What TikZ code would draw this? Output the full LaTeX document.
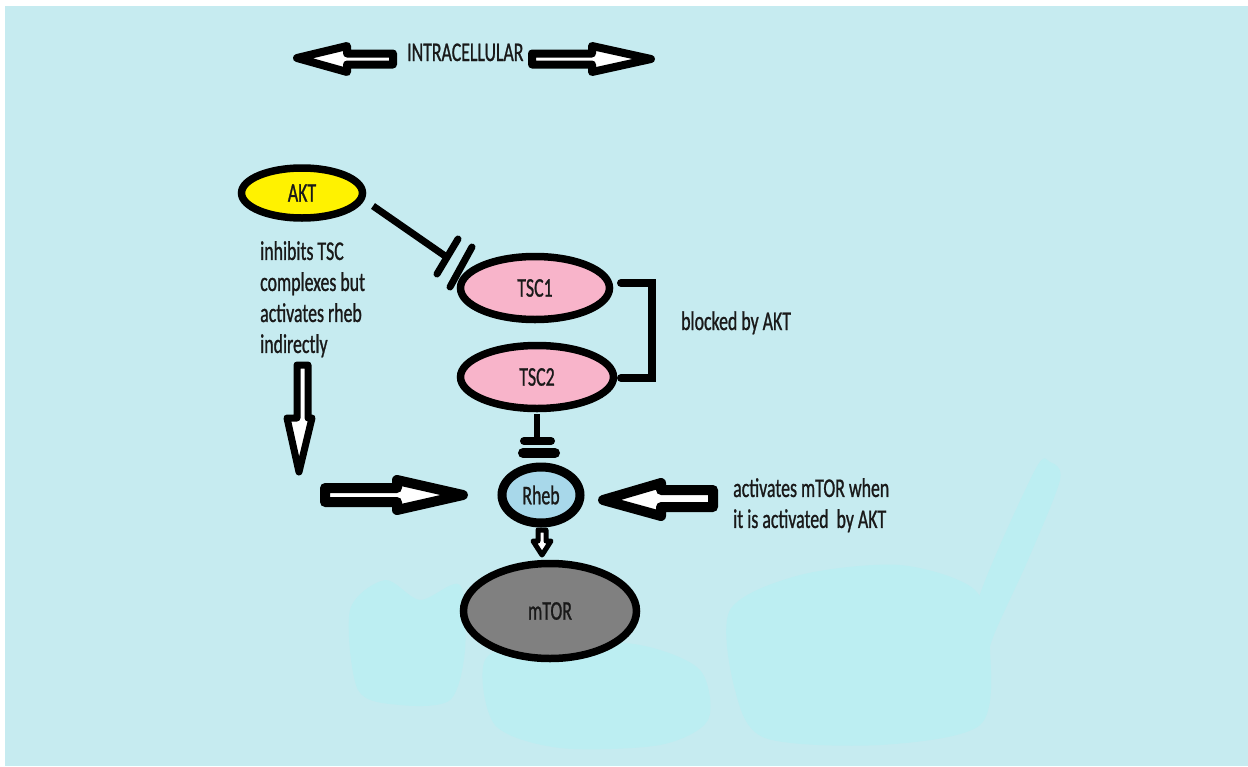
\documentclass[tikz,border=0pt]{standalone}
\usepackage{fontspec}
\newfontfamily\cf[FakeStretch=0.66,FakeBold=0.9]{Carlito}
\usetikzlibrary{shapes.geometric}
\definecolor{bgc}{RGB}{198,235,240}
\definecolor{wmc}{RGB}{188,238,242}
\definecolor{aktc}{RGB}{255,242,0}
\definecolor{tscc}{RGB}{248,180,202}
\definecolor{rhebc}{RGB}{168,216,234}
\definecolor{mtorc}{RGB}{128,128,128}
\definecolor{txc}{RGB}{25,25,25}
\tikzset{
  prot/.style={ellipse, draw=black, line width=7.5pt, inner sep=0pt, text=txc,
    font=\cf\fontsize{27}{31}\selectfont},
  lbl/.style={inner sep=0pt, text=txc, align=left, font=\cf\fontsize{27}{31}\selectfont},
  blockarrow/.style={draw=black, fill=white, line width=8pt, line join=round},
  inhline/.style={draw=black, line width=7pt},
  tbar/.style={draw=black, line width=8pt, line cap=round},
  wm/.style={fill=wmc, draw=none}
}
\begin{document}
\begin{tikzpicture}[x=1pt,y=-1pt]
\useasboundingbox (0,0) rectangle (1248,766);
\fill[white] (0,0) rectangle (1248,766);
\fill[bgc] (5,6) rectangle (1248,766);
% faint watermark
\fill[wm] plot[smooth cycle] coordinates {(350,610) (385,580) (420,600) (460,585) (465,650) (450,700) (400,705) (358,690)};
\fill[wm] plot[smooth cycle] coordinates {(485,660) (540,640) (640,645) (700,670) (708,720) (660,745) (560,748) (495,725)};
\fill[wm] plot[smooth cycle] coordinates {(730,610) (800,575) (900,565) (975,590) (990,650) (980,725) (880,745) (765,738) (735,690)};
\fill[wm] plot[smooth cycle] coordinates {(1035,470) (1050,462) (1060,480) (1028,560) (992,640) (982,690) (968,684) (978,600)};
% top arrows and title
\draw[blockarrow] (297,58) -- (347,46) -- (347,53.5) -- (393,53.5) -- (393,64.5) -- (347,64.5) -- (347,72) -- cycle;
\draw[blockarrow] (651,59) -- (592,46) -- (592,53.5) -- (532,53.5) -- (532,64.5) -- (592,64.5) -- (592,72) -- cycle;
\node[lbl, anchor=base west] (title) at (407,61) {INTRACELLULAR};
% proteins
\node[prot, fill=aktc, minimum width=121pt, minimum height=50pt] (AKT) at (302,193) {AKT};
\node[prot, fill=tscc, minimum width=149pt, minimum height=63pt] (TSC1) at (535,288) {TSC1};
\node[prot, fill=tscc, minimum width=153pt, minimum height=63pt] (TSC2) at (537,377) {TSC2};
\node[prot, fill=rhebc, line width=9pt, minimum width=78pt, minimum height=56pt] (Rheb) at (541,495) {Rheb};
\node[prot, fill=mtorc, minimum width=173pt, minimum height=95pt] (mTOR) at (550,611) {mTOR};
% labels
\node[lbl, anchor=north west] (note1) at (260,241) {inhibits TSC\\complexes but\\activates rheb\\indirectly};
\node[lbl, anchor=base west] (note2) at (681,330) {blocked by AKT};
\node[lbl, anchor=north west] (note3) at (733,478) {activates mTOR when\\it is activated\ \ by AKT};
% AKT inhibits TSC1
\coordinate (inhA) at (373,206);
\coordinate (inhB) at (448,258);
\draw[inhline] (inhA) -- (inhB);
\draw[tbar, line width=7pt] (437,274) -- (458,239);
\draw[tbar, line width=7pt] (450,287) -- (472,247);
% bracket TSC1-TSC2
\draw[black, line width=8pt, line join=miter, line cap=round] (621,283) -- (652,283) -- (652,378) -- (621,378);
% TSC2 inhibits Rheb
\coordinate (stemA) at (537,414);
\coordinate (stemB) at (537,438);
\draw[black, line width=6pt] (stemA) -- (stemB);
\draw[tbar] (524,441) -- (551,441);
\draw[tbar, line width=10pt] (523,453) -- (555,453);
% arrows to Rheb
\draw[blockarrow, line width=7pt] (297,365) -- (308,365) -- (308,418) -- (312,418) -- (299,472) -- (287,418) -- (297,418) -- cycle;
\draw[blockarrow, line width=10pt] (325,488) -- (397,488) -- (397,480) -- (463,495) -- (397,510) -- (397,502) -- (325,502) -- cycle;
\draw[blockarrow, line width=10pt] (603,500) -- (661,483) -- (661,490) -- (713,490) -- (713,507) -- (661,507) -- (661,516) -- cycle;
% Rheb -> mTOR small arrow
\draw[blockarrow, line width=5pt] (538,530) -- (546,530) -- (546,541) -- (551,541) -- (542,555) -- (533,541) -- (538,541) -- cycle;
\end{tikzpicture}
\end{document}
